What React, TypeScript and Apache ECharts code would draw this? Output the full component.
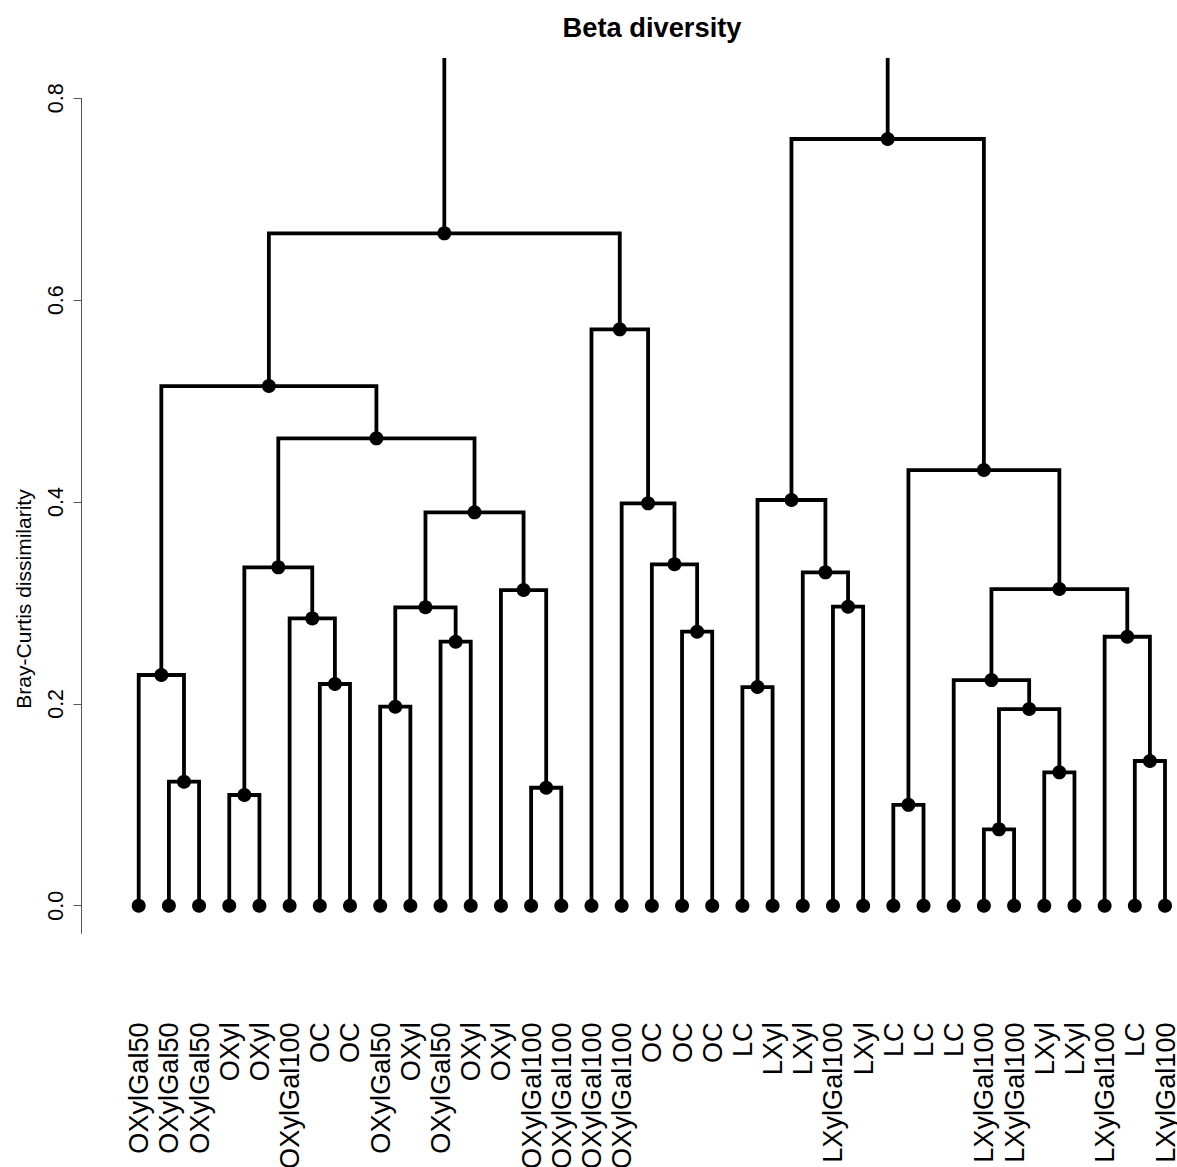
import React, { useEffect, useRef } from "react";
import * as echarts from "echarts";

// Leaf labels, in dendrogram order (left to right)
const leafLabels = [
  "OXylGal50", "OXylGal50", "OXylGal50", "OXyl", "OXyl", "OXylGal100", "OC", "OC",
  "OXylGal50", "OXyl", "OXylGal50", "OXyl", "OXyl", "OXylGal100", "OXylGal100",
  "OXylGal100", "OXylGal100", "OC", "OC", "OC", "LC", "LXyl", "LXyl", "LXylGal100",
  "LXyl", "LC", "LC", "LC", "LXylGal100", "LXylGal100", "LXyl", "LXyl", "LXylGal100",
  "LC", "LXylGal100",
];

// hclust-style merge matrix: negative = leaf (1-based position), positive = earlier merge step (1-based)
const mergeA = [-29, -26, -4, -14, -2, -31, -34, 1, -9, -21, -7, -28, -1, -11, -33, -19, -6, 9, -24, -13, 12, -23, 3, -18, 18, -17, 10, 2, 23, 13, -16, 30, 27, 32];
const mergeB = [-30, -27, -5, -15, -3, -32, -35, 6, -10, -22, -8, 8, 5, -12, 7, -20, 11, 14, -25, 4, 15, 19, 17, 16, 20, 24, 22, 21, 25, 29, 26, 31, 28, 33];
// Merge heights (Bray-Curtis dissimilarity); the last (root) lies above the visible range
const mergeHeight = [
  0.0757, 0.100, 0.1097, 0.1169, 0.1229, 0.1322, 0.1434, 0.1949, 0.1972, 0.2167,
  0.2197, 0.2236, 0.2286, 0.2616, 0.2665, 0.2715, 0.2847, 0.2957, 0.2963, 0.3128,
  0.3138, 0.3303, 0.3353, 0.3383, 0.3898, 0.3987, 0.4020, 0.4317, 0.4631, 0.5149,
  0.5711, 0.6662, 0.7597, 0.95,
];

const yTicks = [0, 0.2, 0.4, 0.6, 0.8];
const yAxisMin = -0.0273;
const yAxisMax = 0.8;
const plotTop = 0.84; // upper edge of plotting region (root branches are cut here)

const FONT = "'Liberation Sans', Arial, Helvetica, sans-serif";

type Node = { x: number; h: number; xa: number; ha: number; xb: number; hb: number };

function buildTree() {
  const nodes: Node[] = [];
  const pos = (id: number) => (id < 0 ? { x: -id - 1, h: 0 } : { x: nodes[id - 1].x, h: nodes[id - 1].h });
  mergeA.forEach((a, k) => {
    const A = pos(a);
    const B = pos(mergeB[k]);
    nodes.push({ x: (A.x + B.x) / 2, h: mergeHeight[k], xa: A.x, ha: A.h, xb: B.x, hb: B.h });
  });
  return nodes;
}

export default function App() {
  const ref = useRef<HTMLDivElement>(null);

  useEffect(() => {
    if (!ref.current) return;
    const chart = echarts.init(ref.current, null, { renderer: "svg" });
    const nodes = buildTree();

    const branchData = nodes.map((n) => [n.xa, n.ha, n.xb, n.hb, n.h]);
    const dotData: number[][] = [];
    leafLabels.forEach((_, i) => dotData.push([i, 0]));
    nodes.forEach((n) => {
      if (n.h <= yAxisMax) dotData.push([n.x, n.h]);
    });

    const lineStyle = { stroke: "#000", lineWidth: 3.8, fill: "none", lineJoin: "miter", lineCap: "butt" };

    chart.setOption({
      animation: false,
      backgroundColor: "#fff",
      grid: {
        left: 138.7,
        right: 12,
        top: 98.3,
        bottom: 233.7,
        containLabel: false,
        outerBoundsMode: "none",
      },
      xAxis: {
        type: "value",
        min: 0,
        max: leafLabels.length - 1,
        interval: 1,
        axisLine: { show: false, onZero: false },
        axisTick: { show: false },
        splitLine: { show: false },
        axisLabel: {
          rotate: 90,
          margin: 89,
          fontSize: 27.2,
          color: "#000",
          fontFamily: FONT,
          formatter: (v: number) => leafLabels[Math.round(v)] ?? "",
        },
      },
      yAxis: {
        type: "value",
        min: yAxisMin,
        max: yAxisMax,
        offset: 57.2,
        axisLine: { show: true, onZero: false, lineStyle: { color: "#555", width: 1 } },
        axisTick: { show: true, length: 8, customValues: yTicks, lineStyle: { color: "#555", width: 1 } },
        axisLabel: {
          customValues: yTicks,
          rotate: 90,
          margin: 15,
          fontSize: 21.5,
          color: "#000",
          fontFamily: FONT,
          formatter: (v: number) => v.toFixed(1),
        },
        splitLine: { show: false },
      },
      graphic: [
        {
          type: "text",
          x: 652,
          y: 27,
          style: {
            text: "Beta diversity",
            font: `bold 27.3px ${FONT}`,
            fill: "#000",
            align: "center",
            verticalAlign: "middle",
          },
        },
        {
          type: "text",
          x: 23,
          y: 599,
          rotation: Math.PI / 2,
          style: {
            text: "Bray-Curtis dissimilarity",
            font: `21px ${FONT}`,
            fill: "#000",
            align: "center",
            verticalAlign: "middle",
          },
        },
      ],
      series: [
        {
          type: "custom",
          clip: false,
          encode: { x: [0, 2], y: [1, 3] },
          data: branchData,
          renderItem: (params: any, api: any) => {
            const xa = api.value(0);
            const ha = api.value(1);
            const xb = api.value(2);
            const hb = api.value(3);
            const h = api.value(4);
            if (h > plotTop) {
              return {
                type: "group",
                children: [
                  { type: "polyline", shape: { points: [api.coord([xa, ha]), api.coord([xa, plotTop])] }, style: lineStyle },
                  { type: "polyline", shape: { points: [api.coord([xb, hb]), api.coord([xb, plotTop])] }, style: lineStyle },
                ],
              };
            }
            return {
              type: "polyline",
              shape: {
                points: [api.coord([xa, ha]), api.coord([xa, h]), api.coord([xb, h]), api.coord([xb, hb])],
              },
              style: lineStyle,
            };
          },
          z: 2,
        },
        {
          type: "scatter",
          clip: false,
          data: dotData,
          symbol: "circle",
          symbolSize: 14,
          itemStyle: { color: "#000", opacity: 1 },
          z: 3,
        },
      ],
    });

    return () => chart.dispose();
  }, []);

  return (
    <div
      ref={ref}
      style={{ position: "absolute", left: 0, top: 0, width: 1177, height: 1167, background: "#fff" }}
    />
  );
}
